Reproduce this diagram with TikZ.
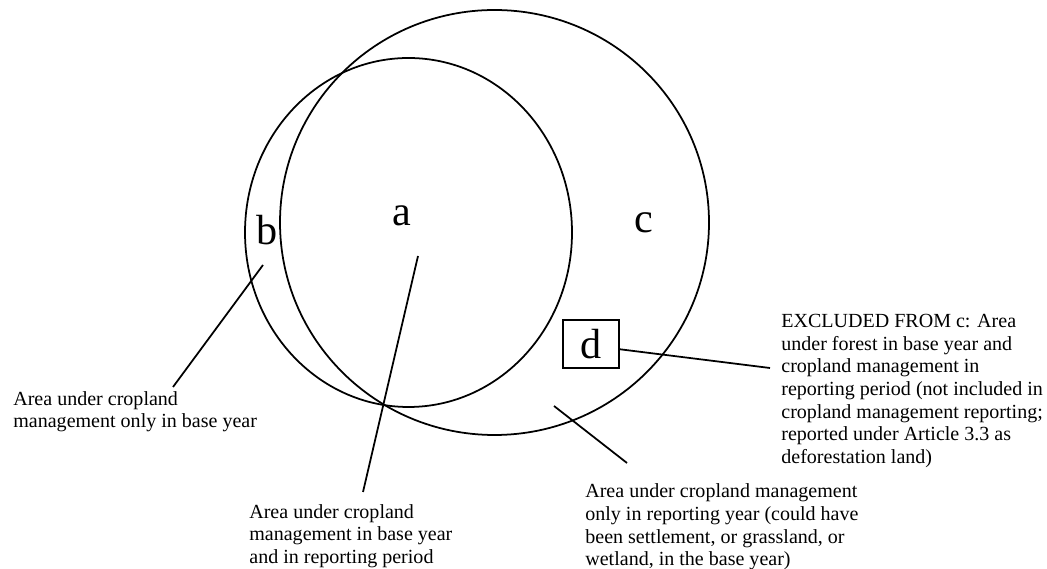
\documentclass[tikz,border=0pt]{standalone}
\usepackage{fontspec}
\setmainfont{Liberation Serif}
\usepackage{tikz}
\usetikzlibrary{calc}

\begin{document}
\begin{tikzpicture}[
    every node/.style={font=\fontsize{11.4}{12.9}\selectfont},
    ring/.style={line width=1pt, black},
    letter/.style={font=\fontsize{24}{28}\selectfont, inner sep=0pt},
    note/.style={align=left, anchor=north west, inner sep=0pt},
    pointer/.style={line width=1pt, black}
]
\useasboundingbox (0,0) rectangle (20.94,11.38);

% === Circles ===
% base year (cropland management)
\draw[ring] (8.17,6.73) circle [x radius=3.27, y radius=3.49];
% reporting period (cropland management)
\draw[ring] (9.89,6.93) circle [x radius=4.29, y radius=4.25];

% Region letters
\node[letter] (la) at (8.04,7.07) {a};
\node[letter] (lb) at (5.34,6.78) {b};
\node[letter] (lc) at (12.87,6.92) {c};
\node[letter, draw, line width=1pt, minimum width=1.12cm, minimum height=0.96cm] (dbox) at (11.82,4.50) {d};

% Points inside the regions
\coordinate (bpt) at (5.26,6.08);
\coordinate (apt) at (8.36,6.26);
\coordinate (cpt) at (11.08,3.26);

% === Notes ===
\node[note] (bnote) at (0.26,3.56) {Area under cropland\\management only in base year};
\node[note] (anote) at (4.98,1.30) {Area under cropland\\management in base year\\and in reporting period};
\node[note] (cnote) at (11.70,1.71) {Area under cropland management\\only in reporting year (could have\\been settlement, or grassland, or\\wetland, in the base year)};
\node[note] (dnote) at (15.62,5.10) {EXCLUDED FROM c: Area\\under forest in base year and\\cropland management in\\reporting period (not included in\\cropland management reporting;\\reported under Article 3.3 as\\deforestation land)};

% Pointer lines
\draw[pointer] (bpt) -- ($(bnote.north west)+(3.20,0.08)$);
\draw[pointer] (apt) -- ($(anote.north west)+(2.28,0.24)$);
\draw[pointer] (cpt) -- ($(cnote.north west)+(0.84,0.41)$);
\draw[pointer] ([yshift=-3pt]dbox.east) -- ($(dnote.north west)+(-0.22,-1.08)$);

\end{tikzpicture}
\end{document}
